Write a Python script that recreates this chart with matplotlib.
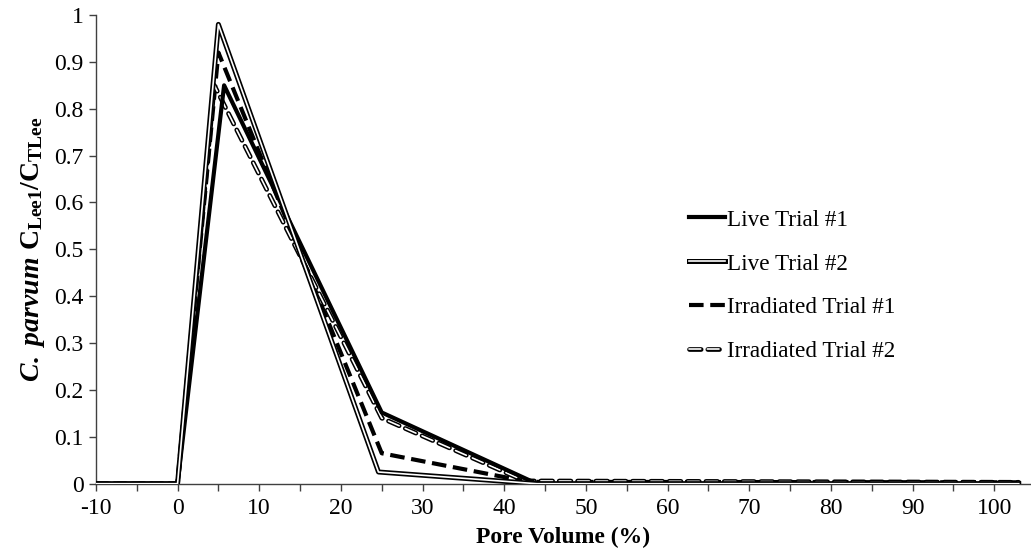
import matplotlib
matplotlib.use("Agg")
import matplotlib.pyplot as plt
import matplotlib.patheffects as pe
from matplotlib.ticker import MultipleLocator

plt.rcParams['font.family'] = ['Liberation Serif', 'DejaVu Serif']
plt.rcParams['mathtext.fontset'] = 'custom'
plt.rcParams['mathtext.rm'] = 'Liberation Serif:bold'
plt.rcParams['mathtext.it'] = 'Liberation Serif:italic:bold'
plt.rcParams['mathtext.bf'] = 'Liberation Serif:bold'
plt.rcParams['axes.unicode_minus'] = False

# pore volume (%) and normalized concentration for each run
live1_x = [-10, 0, 5.7, 25, 44, 103]
live1_y = [0, 0, 0.85, 0.152, 0, 0]

live2_x = [-10, 0, 5, 24.6, 44, 103]
live2_y = [0, 0, 0.98, 0.025, 0, 0]

irr1_x = [-10, 0, 5, 25, 43, 103]
irr1_y = [0, 0, 0.92, 0.065, 0.004, 0.003]

irr2_x = [-10, 0, 4.5, 25, 42.5, 103]
irr2_y = [0, 0, 0.85, 0.14, 0.006, 0.003]

yticks = [0, 0.1, 0.2, 0.3, 0.4, 0.5, 0.6, 0.7, 0.8, 0.9, 1.0]
ytick_labels = ['0', '0.1', '0.2', '0.3', '0.4', '0.5', '0.6', '0.7', '0.8', '0.9', '1']

fig = plt.figure(figsize=(10.31, 5.56), dpi=100)
ax = fig.add_axes([0.093, 0.13, 0.907, 0.843])

# solid black
ax.plot(live1_x, live1_y, color='black', lw=3.0, label='Live Trial #1', zorder=4)
# double line: white core with black outline
ax.plot(live2_x, live2_y, color='white', lw=1.2, label='Live Trial #2', zorder=5,
        path_effects=[pe.Stroke(linewidth=3.6, foreground='black'), pe.Normal()])
ax.plot(irr1_x, irr1_y, color='black', lw=3.0, ls=(0, (3.5, 1.6)),
        label='Irradiated Trial #1', zorder=3)
ax.plot(irr2_x, irr2_y, color='white', lw=1.2, ls=(0, (7, 4)), dash_capstyle='round',
        label='Irradiated Trial #2', zorder=3,
        path_effects=[pe.Stroke(linewidth=3.4, foreground='black'), pe.Normal()])

ax.set_xlim(-10, 104.5)
ax.set_ylim(0, 1)
ax.xaxis.set_major_locator(MultipleLocator(10))
ax.xaxis.set_minor_locator(MultipleLocator(5))
ax.set_yticks(yticks)
ax.set_yticklabels(ytick_labels)

for s in ['top', 'right']:
    ax.spines[s].set_visible(False)
for s in ['left', 'bottom']:
    ax.spines[s].set_color('#404040')
    ax.spines[s].set_linewidth(1.0)

ax.tick_params(axis='both', which='both', direction='out', length=5, width=1,
               color='#404040', labelsize=17)
ax.tick_params(axis='x', pad=5)
ax.tick_params(axis='y', pad=4)

ax.set_xlabel('Pore Volume (%)', fontsize=17, fontweight='bold', labelpad=6)
ax.set_ylabel(r'$\mathit{C.\ parvum}\ \mathrm{C_{Lee1}/C_{TLee}}$', fontsize=20, labelpad=5)

leg = ax.legend(loc='upper left', bbox_to_anchor=(0.612, 0.63), frameon=False,
                fontsize=16.7, handlelength=1.55, handletextpad=0.1, labelspacing=0.98)

fig.savefig('out.png', dpi=100)
